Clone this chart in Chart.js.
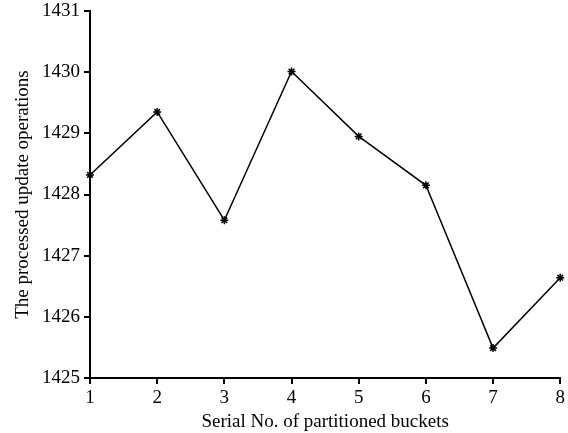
<!DOCTYPE html>
<html>
<head>
<meta charset="utf-8">
<script src="https://cdn.jsdelivr.net/npm/chart.js@4"></script>
<style>
    html, body { margin: 0; padding: 0; background: #ffffff; }
    #wrap { width: 568px; height: 433px; }
</style>
</head>
<body>
<div id="wrap"><canvas id="lineChart" width="568" height="433"></canvas></div>
<script>
// Data
const buckets = ["1", "2", "3", "4", "5", "6", "7", "8"];
const processedOps = [1428.32, 1429.35, 1427.58, 1430.01, 1428.95, 1428.15, 1425.49, 1426.64];
const yTicks = [1425, 1426, 1427, 1428, 1429, 1430, 1431];

const serif = "'Liberation Serif', 'Times New Roman', serif";

const ctx = document.getElementById("lineChart").getContext("2d");

new Chart(ctx, {
    type: "line",
    data: {
        labels: buckets,
        datasets: [{
            data: processedOps,
            borderColor: "#000000",
            borderWidth: 1.5,
            pointStyle: "star",
            pointRadius: 4,
            pointBorderWidth: 1.5,
            pointBorderColor: "#000000",
            pointBackgroundColor: "#000000",
            tension: 0,
            fill: false
        }]
    },
    options: {
        responsive: false,
        animation: false,
        layout: {
            padding: { top: 11, right: 7, left: 0, bottom: 0 }
        },
        plugins: {
            legend: { display: false },
            tooltip: { enabled: false }
        },
        scales: {
            x: {
                offset: false,
                grid: {
                    display: true,
                    drawOnChartArea: false,
                    drawTicks: true,
                    tickLength: 6,
                    color: "#000000",
                    lineWidth: 2
                },
                border: { display: true, color: "#000000", width: 2 },
                ticks: {
                    color: "#000000",
                    font: { family: serif, size: 19 },
                    padding: 3,
                    maxRotation: 0
                },
                title: {
                    display: true,
                    text: "Serial No. of partitioned buckets",
                    color: "#000000",
                    font: { family: serif, size: 19 },
                    padding: { top: 2, bottom: 0 }
                },
                afterFit: (scale) => { scale.height = 55; }
            },
            y: {
                min: yTicks[0],
                max: yTicks[yTicks.length - 1],
                afterBuildTicks: (scale) => {
                    scale.ticks = yTicks.map(v => ({ value: v }));
                },
                grid: {
                    display: true,
                    drawOnChartArea: false,
                    drawTicks: true,
                    tickLength: 6,
                    color: "#000000",
                    lineWidth: 2
                },
                border: { display: true, color: "#000000", width: 2 },
                ticks: {
                    color: "#000000",
                    font: { family: serif, size: 19 },
                    padding: 4,
                    callback: (v) => String(v)
                },
                title: {
                    display: true,
                    text: "The processed update operations",
                    color: "#000000",
                    font: { family: serif, size: 19 },
                    padding: { top: 12, bottom: 4 }
                },
                afterFit: (scale) => {
                    scale.width = 90;
                    scale.paddingTop = 0;
                    scale.paddingBottom = 0;
                }
            }
        }
    }
});
</script>
</body>
</html>
